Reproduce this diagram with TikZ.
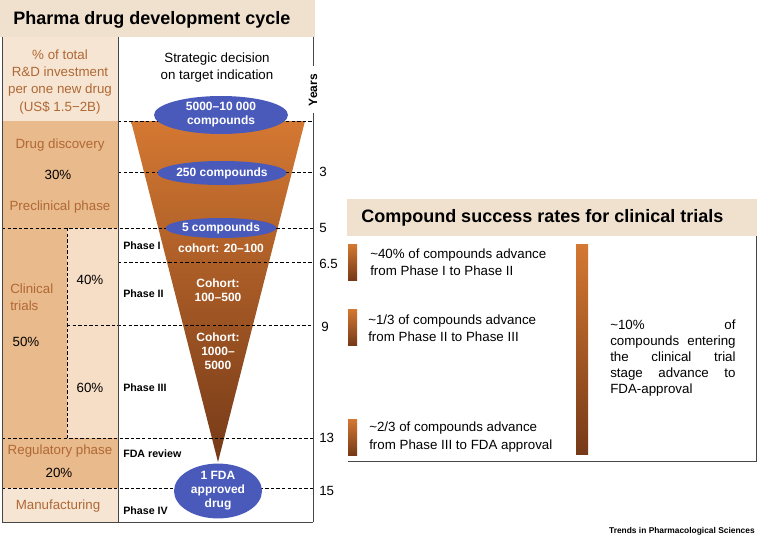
\documentclass[tikz,border=0pt]{standalone}
\usepackage{fontspec}
\setmainfont{Liberation Sans}
\usetikzlibrary{shapes}
\definecolor{bannerbeige}{RGB}{240,225,206}
\definecolor{palecell}{RGB}{246,229,211}
\definecolor{tancell}{RGB}{233,186,140}
\definecolor{lightcell}{RGB}{246,221,198}
\definecolor{phasebrown}{RGB}{176,104,52}
\definecolor{compblue}{RGB}{74,90,186}
\definecolor{funneltop}{RGB}{212,120,50}
\definecolor{funnelbot}{RGB}{118,58,24}
\definecolor{framegray}{RGB}{70,70,70}

\begin{document}
\begin{tikzpicture}[x=0.75pt,y=0.75pt,yscale=-1,xscale=1,
  bodyfont/.style={font=\fontsize{10}{12}\selectfont,inner sep=0.75pt},
  phasetxt/.style={bodyfont,text=phasebrown,align=center},
  pcttxt/.style={bodyfont},
  stagetxt/.style={anchor=west,inner sep=0.75pt,font=\bfseries\fontsize{8}{10}\selectfont},
  yeartxt/.style={anchor=west,bodyfont},
  compound/.style={ellipse,fill=compblue,text=white,align=center,inner sep=0pt,font=\bfseries\fontsize{9}{10.5}\selectfont},
  cohorttxt/.style={text=white,align=center,inner sep=0.75pt,font=\bfseries\fontsize{9}{10.5}\selectfont},
  ratebar/.style={top color=funneltop,bottom color=funnelbot,draw=none},
  ratetxt/.style={anchor=west,align=left,inner sep=0.75pt,font=\fontsize{10}{12}\selectfont},
  titletxt/.style={anchor=west,inner sep=0.75pt,font=\bfseries\fontsize{13.5}{16}\selectfont},
  guide/.style={dashed,line width=0.6pt,dash pattern=on 2.6pt off 1.6pt},
  frame/.style={draw=framegray,line width=0.75pt}
]
\useasboundingbox (0,0) rectangle (759,546);

%Banner: left title
\fill [bannerbeige] (0,0) rectangle (315,37);
\node [titletxt] (lefttitle) at (12,20) {Pharma drug development cycle};

%Left column cells
\fill [palecell] (2,37) rectangle (118,121);
\fill [tancell] (2,121) rectangle (118,228);
\fill [tancell] (2,228) rectangle (67,438);
\fill [lightcell] (67,228) rectangle (118,438);
\fill [tancell] (2,438) rectangle (118,488);
\fill [palecell] (2,488) rectangle (118,522);

%Funnel
\shade [top color=funneltop,bottom color=funnelbot] (131,121) -- (305,121) -- (218,462) -- cycle;

%Year marks on the right edge
\coordinate (y0) at (313,121);
\coordinate (y3) at (313,172);
\coordinate (y5) at (313,228);
\coordinate (y65) at (313,262);
\coordinate (y9) at (313,325);
\coordinate (y13) at (313,438);
\coordinate (y15) at (313,488);

%Dashed guides
\draw [guide] (118,121) -- (y0);
\draw [guide] (118,172) -- (y3);
\draw [guide] (2,228) -- (y5);
\draw [guide] (118,262) -- (y65);
\draw [guide] (67,325) -- (y9);
\draw [guide] (2,438) -- (y13);
\draw [guide] (2,488) -- (y15);
\draw [guide] (67,228) -- (67,438);

%Frame
\draw [frame] (2,37) -- (2,522) -- (313,522);
\draw [frame] (118,37) -- (118,522);
\draw [frame] (313,37) -- (313,66);
\draw [frame] (313,113) -- (313,522);
\node [rotate=90,inner sep=0.75pt,font=\bfseries\fontsize{9}{10}\selectfont] (years) at (313,90) {Years};

%Year numbers
\node [yeartxt] (n3) at (318,172) {3};
\node [yeartxt] (n5) at (318,228) {5};
\node [yeartxt] (n65) at (318,264) {6.5};
\node [yeartxt] (n9) at (320,327) {9};
\node [yeartxt] (n13) at (318,438) {13};
\node [yeartxt] (n15) at (318,491) {15};

%Left column text
\node [phasetxt] (invest) at (60,82) {\% of total\\[0.8pt]R\&D investment\\[0.8pt]per one new drug\\[0.8pt](US\$ 1.5−2B)};
\node [phasetxt] (discovery) at (60,145) {Drug discovery};
\node [pcttxt] (p30) at (58,175) {30\%};
\node [phasetxt] (preclin) at (60,207) {Preclinical phase};
\node [phasetxt,align=left,anchor=west] (clinical) at (9,297) {Clinical\\[0.8pt]trials};
\node [pcttxt] (p50) at (26,342) {50\%};
\node [pcttxt] (p40) at (90,280) {40\%};
\node [pcttxt] (p60) at (90,388) {60\%};
\node [phasetxt] (regul) at (60,451) {Regulatory phase};
\node [pcttxt] (p20) at (59,473) {20\%};
\node [phasetxt] (manuf) at (58,506) {Manufacturing};

%Stage labels
\node [stagetxt] (ph1) at (122,246) {Phase I};
\node [stagetxt] (ph2) at (122,294) {Phase II};
\node [stagetxt] (ph3) at (122,388) {Phase III};
\node [stagetxt] (fda) at (122,454) {FDA review};
\node [stagetxt] (ph4) at (122,511) {Phase IV};

\node [bodyfont,align=center] (strategic) at (217,68) {Strategic decision\\[0.8pt]on target indication};

%Compound ellipses
\node [compound,minimum width=100.5pt,minimum height=28.5pt] (c10000) at (221,115) {5000–10 000\\compounds};
\node [compound,minimum width=92pt,minimum height=18pt] (c250) at (222,173) {250 compounds};
\node [compound,minimum width=83pt,minimum height=15pt] (c5) at (221,228) {5 compounds};
\node [compound,minimum width=66pt,minimum height=37.5pt] (c1) at (218,491) {1 FDA\\approved\\drug};

%Cohort sizes
\node [cohorttxt] (coh1) at (221,248) {cohort: 20–100};
\node [cohorttxt] (coh2) at (218,290) {Cohort:\\100–500};
\node [cohorttxt] (coh3) at (218,351) {Cohort:\\1000–\\5000};

%Banner: right title
\fill [bannerbeige] (347,199) rectangle (757,236);
\node [titletxt] (righttitle) at (360,218) {Compound success rates for clinical trials};
\draw [frame] (756,236) -- (756,461) -- (348,461);

%Rate bars
\shade [ratebar] (348,244) rectangle (357,280);
\shade [ratebar] (348,309) rectangle (357,345);
\shade [ratebar] (348,419) rectangle (357,455);
\shade [ratebar] (576,244) rectangle (588,454);

\node [ratetxt] (rate1) at (369,262) {\textasciitilde40\% of compounds advance\\[1pt]from Phase I to Phase II};
\node [ratetxt] (rate2) at (367,328) {\textasciitilde1/3 of compounds advance\\[1pt]from Phase II to Phase III};
\node [ratetxt] (rate3) at (368,437) {\textasciitilde2/3 of compounds advance\\[1pt]from Phase III to FDA approval};
\node [ratetxt] (rate4) at (609,358) {\hbox to 94pt{\textasciitilde10\%\hfill of}\\[0pt]\hbox to 94pt{compounds\hfill entering}\\[0pt]\hbox to 94pt{the\hfill clinical\hfill trial}\\[0pt]\hbox to 94pt{stage\hfill advance\hfill to}\\[0pt]FDA-approval};

\node [anchor=east,inner sep=0.75pt,font=\bfseries\fontsize{6.3}{7}\selectfont] (journal) at (756,531) {Trends in Pharmacological Sciences};

\end{tikzpicture}
\end{document}
